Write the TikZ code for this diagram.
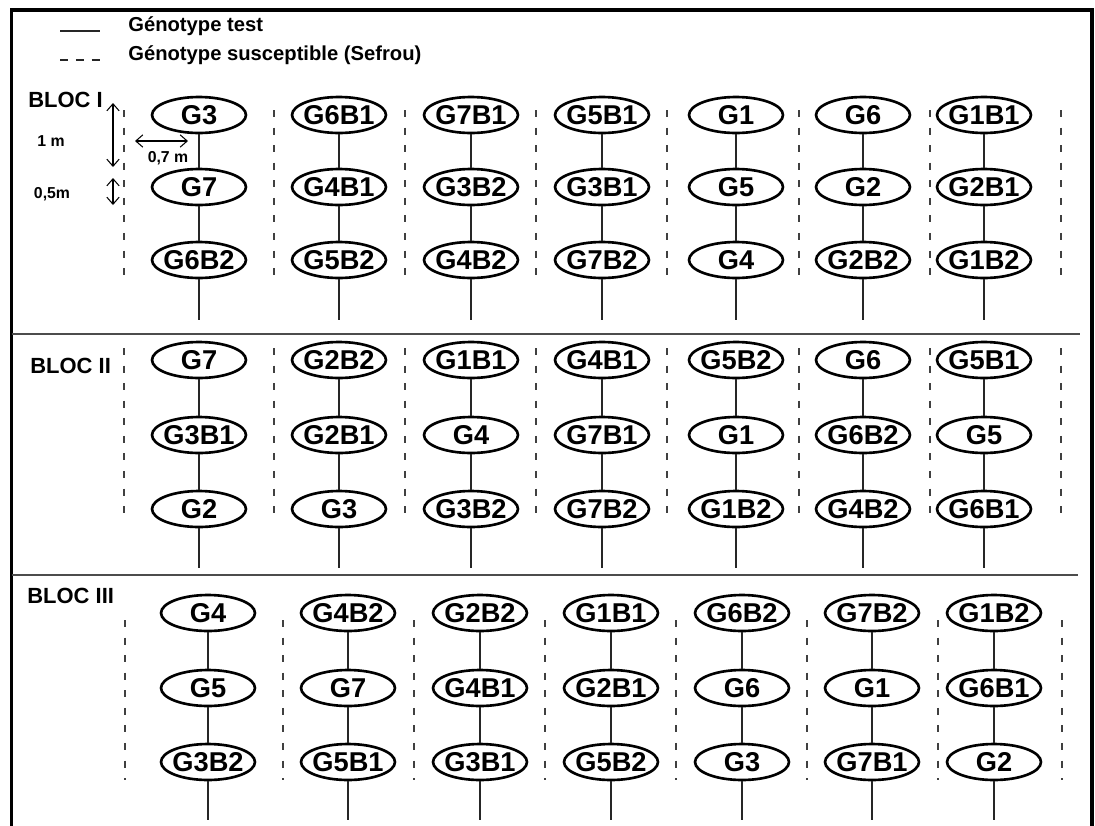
\documentclass[tikz,border=0pt]{standalone}
\usepackage{fontspec}
\setmainfont{Liberation Sans}
\usetikzlibrary{shapes.geometric,arrows.meta}
\newcommand\glab[1]{\makebox[0pt]{#1}}
\begin{document}
\begin{tikzpicture}[x=0.02cm,y=-0.02cm,
  geno/.style={ellipse, draw, line width=1.5pt, minimum width=1.88cm, minimum height=0.72cm, inner sep=0pt, font=\bfseries\fontsize{15.5}{15.5}\selectfont},
  conn/.style={line width=0.7pt, black!85},
  dashline/.style={line width=0.8pt, black!75, dash pattern=on 4pt off 6pt},
  frameline/.style={line width=2pt, black},
  divider/.style={line width=1.1pt, black!70},
  dimarrow/.style={line width=0.6pt, {Straight Barb[length=4pt,width=7pt]}-{Straight Barb[length=4pt,width=7pt]}},
  legtext/.style={font=\bfseries\fontsize{11.5}{11.5}\selectfont, anchor=base west, inner sep=0pt},
  bloc/.style={font=\bfseries\fontsize{12.5}{12.5}\selectfont, anchor=base west, inner sep=0pt},
  dimtext/.style={font=\bfseries\fontsize{9}{9}\selectfont, inner sep=0pt}]
\useasboundingbox (0,0) rectangle (1095,825);
% frame
\draw[frameline] (11.5,826) -- (11.5,10) -- (1092,10) -- (1092,826);
\draw[divider] (11.5,334) -- (1080,334);
\draw[divider] (11.5,575) -- (1078,575);
% legend
\coordinate (ls1) at (60,31); \coordinate (le1) at (100,31);
\draw[conn] (ls1) -- (le1);
\coordinate (ls2) at (60,60); \coordinate (le2) at (100,60);
\draw[conn, dash pattern=on 4.5pt off 4.5pt] (ls2) -- (le2);
\node[legtext] (lt1) at (128,31) {Génotype test};
\node[legtext] (lt2) at (128,60) {Génotype susceptible (Sefrou)};
% bloc labels
\node[bloc] (bl1) at (28,107) {BLOC I};
\node[bloc] (bl2) at (30,373) {BLOC II};
\node[bloc] (bl3) at (27,603) {BLOC III};
% dimensions
\coordinate (d1a) at (113,103); \coordinate (d1b) at (113,167);
\draw[dimarrow] (d1a) -- (d1b);
\coordinate (d2a) at (113,178); \coordinate (d2b) at (113,205);
\draw[dimarrow] (d2a) -- (d2b);
\coordinate (d3a) at (135,141); \coordinate (d3b) at (188,141);
\draw[dimarrow] (d3a) -- (d3b);
\node[dimtext] (t1m) at (51,141) {1 m};
\node[dimtext] (t07) at (168,158) {0,7 m};
\node[dimtext] (t05) at (52,194) {0,5m};
% dashed rows
\foreach \x in {124,274,405,536,667,799,930,1061}{
  \draw[dashline] (\x,110) -- (\x,275);
  \draw[dashline] (\x,348) -- (\x,518);
}
\foreach \x in {125,283,414,545,676,807,938,1062}{
  \draw[dashline] (\x,620) -- (\x,780);
}
% BLOC I
\foreach \x/\a/\b/\c [count=\i] in {199/G3/G7/G6B2, 339/G6B1/G4B1/G5B2, 471/G7B1/G3B2/G4B2, 602/G5B1/G3B1/G7B2, 736/G1/G5/G4, 863/G6/G2/G2B2, 984/G1B1/G2B1/G1B2}{
  \node[geno] (bI-\i-1) at (\x,115) {\glab{\a}};
  \node[geno] (bI-\i-2) at (\x,187) {\glab{\b}};
  \node[geno] (bI-\i-3) at (\x,260) {\glab{\c}};
  \coordinate (bI-\i-e) at (\x,320);
  \draw[conn] (bI-\i-1) -- (bI-\i-2);
  \draw[conn] (bI-\i-2) -- (bI-\i-3);
  \draw[conn] (bI-\i-3) -- (bI-\i-e);
}
% BLOC II
\foreach \x/\a/\b/\c [count=\i] in {199/G7/G3B1/G2, 339/G2B2/G2B1/G3, 471/G1B1/G4/G3B2, 602/G4B1/G7B1/G7B2, 736/G5B2/G1/G1B2, 863/G6/G6B2/G4B2, 984/G5B1/G5/G6B1}{
  \node[geno] (bII-\i-1) at (\x,360) {\glab{\a}};
  \node[geno] (bII-\i-2) at (\x,435) {\glab{\b}};
  \node[geno] (bII-\i-3) at (\x,509) {\glab{\c}};
  \coordinate (bII-\i-e) at (\x,568);
  \draw[conn] (bII-\i-1) -- (bII-\i-2);
  \draw[conn] (bII-\i-2) -- (bII-\i-3);
  \draw[conn] (bII-\i-3) -- (bII-\i-e);
}
% BLOC III
\foreach \x/\a/\b/\c [count=\i] in {208/G4/G5/G3B2, 348/G4B2/G7/G5B1, 480/G2B2/G4B1/G3B1, 611/G1B1/G2B1/G5B2, 742/G6B2/G6/G3, 872/G7B2/G1/G7B1, 994/G1B2/G6B1/G2}{
  \node[geno] (bIII-\i-1) at (\x,613) {\glab{\a}};
  \node[geno] (bIII-\i-2) at (\x,688) {\glab{\b}};
  \node[geno] (bIII-\i-3) at (\x,762) {\glab{\c}};
  \coordinate (bIII-\i-e) at (\x,820);
  \draw[conn] (bIII-\i-1) -- (bIII-\i-2);
  \draw[conn] (bIII-\i-2) -- (bIII-\i-3);
  \draw[conn] (bIII-\i-3) -- (bIII-\i-e);
}
\end{tikzpicture}
\end{document}
